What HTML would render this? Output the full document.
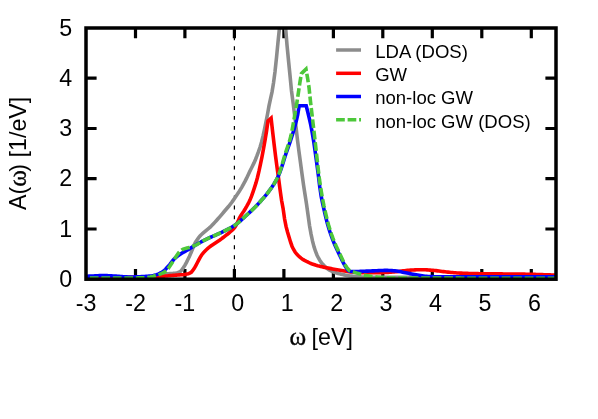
<!DOCTYPE html>
<html><head><meta charset="utf-8"><title>A(omega)</title>
<style>
html,body{margin:0;padding:0;background:#fff;}
body{width:598px;height:419px;overflow:hidden;}
svg{display:block;}
text{font-family:"Liberation Sans",sans-serif;fill:#000;}
text.w{font-family:"Liberation Serif",serif;stroke:#000;stroke-width:0.35px;}
</style></head><body>
<svg width="598" height="419" viewBox="0 0 598 419">
<rect width="598" height="419" fill="#fff"/>
<defs><clipPath id="c"><rect x="86.0" y="28.0" width="470.0" height="251.2"/></clipPath></defs>
<path d="M234.4,28.0 V279.2" stroke="#000" stroke-width="1.2" stroke-dasharray="3.9 6.05" stroke-dashoffset="1.6" fill="none"/>
<path d="M135.5,279.2 V268.9 M135.5,28.0 V38.3 M184.9,279.2 V268.9 M184.9,28.0 V38.3 M234.4,279.2 V268.9 M234.4,28.0 V38.3 M283.9,279.2 V268.9 M283.9,28.0 V38.3 M333.4,279.2 V268.9 M333.4,28.0 V38.3 M382.8,279.2 V268.9 M382.8,28.0 V38.3 M432.3,279.2 V268.9 M432.3,28.0 V38.3 M481.8,279.2 V268.9 M481.8,28.0 V38.3 M531.3,279.2 V268.9 M531.3,28.0 V38.3 M86.0,229.0 H96.6 M556.0,229.0 H545.4 M86.0,178.7 H96.6 M556.0,178.7 H545.4 M86.0,128.5 H96.6 M556.0,128.5 H545.4 M86.0,78.2 H96.6 M556.0,78.2 H545.4" stroke="#000" stroke-width="3.2" fill="none"/>
<g clip-path="url(#c)" fill="none" stroke-linejoin="miter" stroke-miterlimit="10" stroke-linecap="butt">
<path d="M86.00,277.60 L87.50,277.60 L89.00,277.60 L90.50,277.60 L92.00,277.60 L93.50,277.60 L95.00,277.60 L96.50,277.60 L98.00,277.60 L99.50,277.60 L101.00,277.59 L102.50,277.59 L104.00,277.59 L105.50,277.59 L107.00,277.59 L108.50,277.58 L110.00,277.58 L111.50,277.58 L113.00,277.58 L114.50,277.57 L116.00,277.57 L117.50,277.57 L119.00,277.56 L120.50,277.56 L122.00,277.55 L123.50,277.55 L125.00,277.54 L126.50,277.54 L128.00,277.53 L129.50,277.52 L131.00,277.52 L132.50,277.51 L134.00,277.50 L135.50,277.50 L137.00,277.49 L138.50,277.48 L140.00,277.47 L141.50,277.46 L143.00,277.45 L144.50,277.44 L146.00,277.43 L147.50,277.42 L149.00,277.41 L150.50,277.39 L152.00,277.26 L153.50,277.02 L155.00,276.70 L156.50,276.33 L158.00,275.96 L159.50,275.61 L161.00,275.28 L162.50,274.90 L164.00,274.52 L165.50,274.16 L167.00,273.88 L168.50,273.71 L170.00,273.59 L171.50,273.51 L173.00,273.41 L174.50,273.27 L176.00,273.05 L177.50,272.68 L179.00,272.13 L180.50,271.33 L182.00,269.59 L183.50,267.50 L185.00,265.10 L186.50,262.30 L188.00,259.30 L189.50,256.20 L191.00,252.72 L192.50,249.00 L194.00,245.28 L195.50,242.21 L197.00,239.91 L198.50,237.83 L200.00,236.00 L201.50,234.47 L203.00,233.11 L204.50,231.82 L206.00,230.55 L207.50,229.36 L209.00,228.16 L210.50,226.83 L212.00,225.36 L213.50,223.79 L215.00,222.15 L216.50,220.48 L218.00,218.80 L219.50,217.10 L221.00,215.34 L222.50,213.56 L224.00,211.78 L225.50,210.00 L227.00,208.27 L228.50,206.53 L230.00,204.70 L231.50,202.71 L233.00,200.59 L234.50,198.43 L236.00,196.25 L237.50,194.06 L239.00,191.79 L240.50,189.38 L242.00,186.85 L243.50,184.18 L245.00,181.39 L246.50,178.41 L248.00,175.24 L249.50,172.05 L251.00,168.97 L252.50,165.99 L254.00,162.89 L255.50,159.44 L257.00,155.72 L258.50,151.69 L260.00,147.24 L261.50,142.25 L263.00,136.24 L264.50,129.30 L266.00,121.96 L267.50,114.24 L269.00,105.95 L270.50,98.77 L272.00,92.14 L273.50,82.92 L275.00,71.80 L276.50,57.60 L278.00,42.11 L279.50,27.78 L281.00,12.00 L282.50,2.00 L284.00,12.02 L285.51,26.66 L287.01,45.09 L288.51,60.53 L290.01,75.53 L291.52,91.04 L293.02,102.37 L294.52,114.36 L296.02,127.14 L297.53,140.36 L299.03,152.10 L300.53,163.08 L302.04,174.29 L303.54,185.04 L305.04,194.63 L306.54,204.29 L308.05,215.10 L309.55,225.72 L311.05,234.15 L312.55,241.19 L314.06,246.89 L315.56,251.48 L317.06,255.26 L318.57,258.23 L320.07,260.73 L321.57,262.84 L323.07,264.60 L324.58,266.17 L326.08,267.60 L327.58,268.85 L329.09,269.89 L330.59,270.69 L332.09,271.38 L333.59,272.00 L335.10,272.55 L336.60,273.04 L338.10,273.48 L339.60,273.87 L341.11,274.22 L342.61,274.55 L344.11,274.87 L345.62,275.16 L347.12,275.44 L348.62,275.69 L350.12,275.91 L351.63,276.11 L353.13,276.28 L354.63,276.41 L356.13,276.53 L357.64,276.64 L359.14,276.75 L360.64,276.85 L362.15,276.94 L363.65,277.02 L365.15,277.08 L366.65,277.14 L368.16,277.18 L369.66,277.20 L371.16,277.21 L372.66,277.21 L374.17,277.22 L375.67,277.23 L377.17,277.24 L378.68,277.25 L380.18,277.25 L381.68,277.26 L383.18,277.27 L384.69,277.28 L386.19,277.28 L387.69,277.29 L389.20,277.30 L390.70,277.30 L392.20,277.31 L393.70,277.32 L395.21,277.33 L396.71,277.33 L398.21,277.34 L399.71,277.34 L401.22,277.35 L402.72,277.36 L404.22,277.36 L405.73,277.37 L407.23,277.37 L408.73,277.38 L410.23,277.39 L411.74,277.39 L413.24,277.40 L414.74,277.40 L416.24,277.41 L417.75,277.41 L419.25,277.42 L420.75,277.42 L422.26,277.43 L423.76,277.43 L425.26,277.44 L426.76,277.44 L428.27,277.45 L429.77,277.45 L431.27,277.46 L432.77,277.46 L434.28,277.46 L435.78,277.47 L437.28,277.47 L438.79,277.48 L440.29,277.48 L441.79,277.48 L443.29,277.49 L444.80,277.49 L446.30,277.49 L447.80,277.50 L449.30,277.50 L450.81,277.51 L452.31,277.51 L453.81,277.51 L455.32,277.51 L456.82,277.52 L458.32,277.52 L459.82,277.52 L461.33,277.53 L462.83,277.53 L464.33,277.53 L465.84,277.53 L467.34,277.54 L468.84,277.54 L470.34,277.54 L471.85,277.54 L473.35,277.55 L474.85,277.55 L476.35,277.55 L477.86,277.55 L479.36,277.56 L480.86,277.56 L482.37,277.56 L483.87,277.56 L485.37,277.56 L486.87,277.57 L488.38,277.57 L489.88,277.57 L491.38,277.57 L492.88,277.57 L494.39,277.57 L495.89,277.57 L497.39,277.58 L498.90,277.58 L500.40,277.58 L501.90,277.58 L503.40,277.58 L504.91,277.58 L506.41,277.58 L507.91,277.59 L509.41,277.59 L510.92,277.59 L512.42,277.59 L513.92,277.59 L515.43,277.59 L516.93,277.59 L518.43,277.59 L519.93,277.59 L521.44,277.59 L522.94,277.59 L524.44,277.59 L525.95,277.59 L527.45,277.60 L528.95,277.60 L530.45,277.60 L531.96,277.60 L533.46,277.60 L534.96,277.60 L536.46,277.60 L537.97,277.60 L539.47,277.60 L540.97,277.60 L542.48,277.60 L543.98,277.60 L545.48,277.60 L546.98,277.60 L548.49,277.60 L549.99,277.60 L551.49,277.60 L552.99,277.60 L554.50,277.60 L556.00,277.60" stroke="#8c8c8c" stroke-width="3.6"/>
<path d="M86.00,277.40 L87.50,277.40 L89.01,277.40 L90.51,277.40 L92.02,277.40 L93.52,277.40 L95.02,277.39 L96.53,277.39 L98.03,277.39 L99.54,277.38 L101.04,277.38 L102.55,277.38 L104.05,277.37 L105.55,277.37 L107.06,277.36 L108.56,277.36 L110.07,277.35 L111.57,277.34 L113.07,277.34 L114.58,277.33 L116.08,277.32 L117.59,277.31 L119.09,277.30 L120.60,277.29 L122.10,277.28 L123.60,277.27 L125.11,277.26 L126.61,277.25 L128.12,277.24 L129.62,277.23 L131.12,277.21 L132.63,277.20 L134.13,277.18 L135.64,277.17 L137.14,277.15 L138.64,277.14 L140.15,277.12 L141.65,277.11 L143.16,277.09 L144.66,277.07 L146.17,277.05 L147.67,277.03 L149.17,277.01 L150.68,276.99 L152.18,276.94 L153.69,276.88 L155.19,276.80 L156.69,276.71 L158.20,276.60 L159.70,276.50 L161.21,276.39 L162.71,276.29 L164.21,276.17 L165.72,276.05 L167.22,275.92 L168.73,275.78 L170.23,275.64 L171.74,275.50 L173.24,275.36 L174.74,275.23 L176.25,275.11 L177.75,275.01 L179.26,274.92 L180.76,274.82 L182.26,274.70 L183.77,274.56 L185.27,274.38 L186.78,274.09 L188.28,273.67 L189.79,273.09 L191.29,272.22 L192.79,270.51 L194.30,268.35 L195.80,265.77 L197.31,262.72 L198.81,259.86 L200.31,257.12 L201.82,254.71 L203.32,252.80 L204.83,251.17 L206.33,249.72 L207.83,248.40 L209.34,247.18 L210.84,246.05 L212.35,245.02 L213.85,244.03 L215.36,243.03 L216.86,242.04 L218.36,241.06 L219.87,240.04 L221.37,238.93 L222.88,237.76 L224.38,236.57 L225.88,235.39 L227.39,234.23 L228.89,233.04 L230.40,231.74 L231.90,230.40 L233.40,228.94 L234.91,227.19 L236.41,224.73 L237.92,221.43 L239.42,218.10 L240.93,215.41 L242.43,213.13 L243.93,210.90 L245.44,208.46 L246.94,205.91 L248.45,203.19 L249.95,200.11 L251.45,196.38 L252.96,192.12 L254.46,187.67 L255.97,182.87 L257.47,177.47 L258.98,171.19 L260.48,164.20 L261.98,156.78 L263.49,148.93 L264.99,140.48 L266.50,131.36 L268.00,121.00 L269.55,119.60 L271.10,118.20 L272.60,131.52 L274.10,144.26 L275.60,156.47 L277.10,167.88 L278.60,178.58 L280.10,190.01 L281.60,200.55 L283.10,208.43 L284.60,219.07 L286.09,226.66 L287.59,232.32 L289.09,237.31 L290.59,242.21 L292.09,246.45 L293.59,249.49 L295.09,251.95 L296.59,253.97 L298.09,255.59 L299.59,256.95 L301.09,258.14 L302.59,259.19 L304.09,260.12 L305.59,260.95 L307.09,261.73 L308.59,262.44 L310.09,263.10 L311.59,263.71 L313.09,264.27 L314.58,264.77 L316.08,265.24 L317.58,265.67 L319.08,266.06 L320.58,266.44 L322.08,266.79 L323.58,267.12 L325.08,267.44 L326.58,267.75 L328.08,268.06 L329.58,268.36 L331.08,268.64 L332.58,268.92 L334.08,269.19 L335.58,269.45 L337.08,269.71 L338.58,269.96 L340.08,270.20 L341.58,270.43 L343.07,270.67 L344.57,270.92 L346.07,271.17 L347.57,271.42 L349.07,271.65 L350.57,271.86 L352.07,272.05 L353.57,272.20 L355.07,272.30 L356.57,272.38 L358.07,272.46 L359.57,272.53 L361.07,272.60 L362.57,272.65 L364.07,272.70 L365.57,272.75 L367.07,272.78 L368.57,272.79 L370.07,272.80 L371.56,272.80 L373.06,272.78 L374.56,272.76 L376.06,272.74 L377.56,272.71 L379.06,272.67 L380.56,272.63 L382.06,272.59 L383.56,272.55 L385.06,272.50 L386.56,272.44 L388.06,272.35 L389.56,272.25 L391.06,272.14 L392.56,272.02 L394.06,271.89 L395.56,271.76 L397.06,271.62 L398.56,271.46 L400.05,271.27 L401.55,271.07 L403.05,270.86 L404.55,270.66 L406.05,270.48 L407.55,270.31 L409.05,270.18 L410.55,270.09 L412.05,270.01 L413.55,269.94 L415.05,269.87 L416.55,269.81 L418.05,269.77 L419.55,269.73 L421.05,269.71 L422.55,269.70 L424.05,269.73 L425.55,269.79 L427.05,269.87 L428.54,269.98 L430.04,270.11 L431.54,270.24 L433.04,270.38 L434.54,270.51 L436.04,270.66 L437.54,270.84 L439.04,271.04 L440.54,271.24 L442.04,271.45 L443.54,271.64 L445.04,271.80 L446.54,271.96 L448.04,272.11 L449.54,272.27 L451.04,272.42 L452.54,272.56 L454.04,272.69 L455.54,272.82 L457.03,272.93 L458.53,273.02 L460.03,273.10 L461.53,273.17 L463.03,273.23 L464.53,273.29 L466.03,273.34 L467.53,273.40 L469.03,273.45 L470.53,273.49 L472.03,273.53 L473.53,273.57 L475.03,273.61 L476.53,273.64 L478.03,273.67 L479.53,273.69 L481.03,273.72 L482.53,273.74 L484.03,273.76 L485.52,273.78 L487.02,273.79 L488.52,273.81 L490.02,273.82 L491.52,273.84 L493.02,273.85 L494.52,273.86 L496.02,273.87 L497.52,273.89 L499.02,273.90 L500.52,273.91 L502.02,273.92 L503.52,273.93 L505.02,273.94 L506.52,273.95 L508.02,273.96 L509.52,273.98 L511.02,273.99 L512.52,274.01 L514.01,274.02 L515.51,274.04 L517.01,274.06 L518.51,274.07 L520.01,274.10 L521.51,274.12 L523.01,274.14 L524.51,274.17 L526.01,274.20 L527.51,274.23 L529.01,274.26 L530.51,274.30 L532.01,274.34 L533.51,274.37 L535.01,274.41 L536.51,274.46 L538.01,274.50 L539.51,274.54 L541.01,274.59 L542.50,274.64 L544.00,274.68 L545.50,274.73 L547.00,274.78 L548.50,274.83 L550.00,274.89 L551.50,274.94 L553.00,274.99 L554.50,275.05 L556.00,275.10" stroke="#ff0000" stroke-width="3.6"/>
<path d="M86.00,276.30 L87.50,276.24 L89.00,276.17 L90.50,276.11 L92.01,276.04 L93.51,275.97 L95.01,275.90 L96.51,275.82 L98.01,275.72 L99.51,275.62 L101.01,275.54 L102.52,275.50 L104.02,275.51 L105.52,275.55 L107.02,275.61 L108.52,275.70 L110.02,275.79 L111.52,275.87 L113.03,275.96 L114.53,276.06 L116.03,276.17 L117.53,276.29 L119.03,276.40 L120.53,276.51 L122.03,276.60 L123.54,276.70 L125.04,276.80 L126.54,276.89 L128.04,276.96 L129.54,277.00 L131.04,276.99 L132.54,276.97 L134.05,276.93 L135.55,276.89 L137.05,276.83 L138.55,276.78 L140.05,276.71 L141.55,276.62 L143.05,276.53 L144.55,276.43 L146.06,276.33 L147.56,276.23 L149.06,276.11 L150.56,275.96 L152.06,275.73 L153.56,275.42 L155.06,275.05 L156.57,274.63 L158.07,274.11 L159.57,273.48 L161.07,272.73 L162.57,271.86 L164.07,270.69 L165.57,269.20 L167.08,267.53 L168.58,265.84 L170.08,264.10 L171.58,262.18 L173.08,260.28 L174.58,258.60 L176.08,257.25 L177.59,256.08 L179.09,255.02 L180.59,254.03 L182.09,253.06 L183.59,252.17 L185.09,251.33 L186.59,250.48 L188.10,249.60 L189.60,248.69 L191.10,247.76 L192.60,246.84 L194.10,245.93 L195.60,245.05 L197.10,244.18 L198.61,243.31 L200.11,242.46 L201.61,241.63 L203.11,240.82 L204.61,240.04 L206.11,239.31 L207.61,238.61 L209.12,237.93 L210.62,237.27 L212.12,236.62 L213.62,235.96 L215.12,235.29 L216.62,234.61 L218.12,233.95 L219.63,233.28 L221.13,232.60 L222.63,231.90 L224.13,231.18 L225.63,230.43 L227.13,229.67 L228.63,228.89 L230.14,228.08 L231.64,227.23 L233.14,226.34 L234.64,225.38 L236.14,224.33 L237.64,223.17 L239.14,221.91 L240.65,220.58 L242.15,219.21 L243.65,217.83 L245.15,216.46 L246.65,215.09 L248.15,213.72 L249.65,212.34 L251.15,210.93 L252.66,209.50 L254.16,208.03 L255.66,206.52 L257.16,204.96 L258.66,203.37 L260.16,201.74 L261.66,200.08 L263.17,198.38 L264.67,196.62 L266.17,194.80 L267.67,192.90 L269.17,190.91 L270.67,188.84 L272.17,186.70 L273.68,184.46 L275.18,182.06 L276.68,179.41 L278.18,176.46 L279.68,172.96 L281.18,168.75 L282.68,164.08 L284.19,159.25 L285.69,154.53 L287.19,150.14 L288.69,145.90 L290.19,141.58 L291.69,136.99 L293.19,132.20 L294.70,127.10 L296.20,121.42 L297.70,114.60 L299.20,105.80 L300.60,105.80 L302.00,105.80 L303.40,105.80 L304.80,105.80 L306.20,105.80 L307.70,111.79 L309.21,118.03 L310.71,124.67 L312.21,132.54 L313.72,141.51 L315.22,151.98 L316.73,163.00 L318.23,174.24 L319.73,186.42 L321.24,196.70 L322.74,203.81 L324.24,210.72 L325.75,217.18 L327.25,223.13 L328.75,228.29 L330.26,232.95 L331.76,237.20 L333.26,241.12 L334.77,244.71 L336.27,248.04 L337.77,251.23 L339.28,254.38 L340.78,257.57 L342.29,260.72 L343.79,263.69 L345.29,266.33 L346.80,268.57 L348.30,270.50 L349.81,271.33 L351.31,271.45 L352.82,271.49 L354.32,271.50 L355.83,271.49 L357.33,271.47 L358.84,271.44 L360.34,271.40 L361.85,271.36 L363.35,271.31 L364.86,271.24 L366.36,271.17 L367.87,271.10 L369.37,271.03 L370.88,270.97 L372.38,270.90 L373.89,270.83 L375.39,270.75 L376.90,270.68 L378.40,270.61 L379.91,270.54 L381.41,270.49 L382.92,270.44 L384.42,270.41 L385.93,270.40 L387.43,270.41 L388.94,270.46 L390.44,270.54 L391.95,270.64 L393.45,270.74 L394.96,270.87 L396.46,271.04 L397.97,271.27 L399.47,271.54 L400.98,271.83 L402.48,272.14 L403.99,272.45 L405.49,272.75 L407.00,273.03 L408.50,273.32 L410.01,273.63 L411.51,273.94 L413.02,274.25 L414.52,274.55 L416.03,274.83 L417.53,275.08 L419.04,275.31 L420.54,275.53 L422.05,275.76 L423.55,275.97 L425.06,276.17 L426.56,276.34 L428.07,276.48 L429.57,276.57 L431.08,276.62 L432.58,276.66 L434.09,276.70 L435.59,276.73 L437.10,276.77 L438.60,276.79 L440.11,276.82 L441.61,276.84 L443.12,276.86 L444.62,276.88 L446.13,276.89 L447.63,276.90 L449.14,276.90 L450.64,276.90 L452.15,276.90 L453.66,276.90 L455.16,276.90 L456.67,276.90 L458.17,276.90 L459.68,276.90 L461.18,276.90 L462.69,276.90 L464.19,276.90 L465.70,276.90 L467.20,276.90 L468.71,276.90 L470.21,276.90 L471.72,276.90 L473.22,276.90 L474.73,276.90 L476.23,276.90 L477.74,276.90 L479.24,276.90 L480.75,276.90 L482.25,276.90 L483.76,276.90 L485.26,276.90 L486.77,276.90 L488.27,276.90 L489.78,276.90 L491.28,276.90 L492.79,276.90 L494.29,276.90 L495.80,276.90 L497.30,276.90 L498.81,276.90 L500.31,276.90 L501.82,276.90 L503.32,276.90 L504.83,276.90 L506.33,276.90 L507.84,276.90 L509.34,276.90 L510.85,276.90 L512.35,276.90 L513.86,276.90 L515.36,276.90 L516.87,276.90 L518.37,276.90 L519.88,276.90 L521.38,276.90 L522.89,276.90 L524.39,276.90 L525.90,276.90 L527.40,276.90 L528.91,276.90 L530.41,276.90 L531.92,276.90 L533.42,276.90 L534.93,276.90 L536.43,276.90 L537.94,276.90 L539.44,276.90 L540.95,276.90 L542.45,276.90 L543.96,276.90 L545.46,276.90 L546.97,276.90 L548.47,276.90 L549.98,276.90 L551.48,276.90 L552.99,276.90 L554.49,276.90 L556.00,276.90" stroke="#0000ff" stroke-width="3.6"/>
<path d="M86.00,278.00 L87.50,278.00 L88.99,278.00 L90.49,278.00 L91.98,278.00 L93.48,278.00 L94.97,278.00 L96.47,278.00 L97.97,278.00 L99.46,278.00 L100.96,278.00 L102.45,278.00 L103.95,277.99 L105.45,277.99 L106.94,277.99 L108.44,277.99 L109.93,277.99 L111.43,277.99 L112.92,277.99 L114.42,277.98 L115.92,277.98 L117.41,277.98 L118.91,277.98 L120.40,277.97 L121.90,277.97 L123.40,277.97 L124.89,277.96 L126.39,277.96 L127.88,277.96 L129.38,277.95 L130.88,277.95 L132.37,277.94 L133.87,277.94 L135.36,277.93 L136.86,277.93 L138.35,277.92 L139.85,277.91 L141.35,277.91 L142.84,277.90 L144.34,277.85 L145.83,277.69 L147.33,277.47 L148.82,277.21 L150.32,276.94 L151.82,276.63 L153.31,276.25 L154.81,275.83 L156.30,275.38 L157.80,274.90 L159.30,274.40 L160.79,273.83 L162.29,273.16 L163.78,272.40 L165.28,271.47 L166.77,270.27 L168.27,268.51 L169.77,266.32 L171.26,263.96 L172.76,261.67 L174.25,259.34 L175.75,257.00 L177.25,254.81 L178.74,252.68 L180.24,251.09 L181.73,250.00 L183.23,249.18 L184.72,248.63 L186.22,248.24 L187.72,247.87 L189.21,247.46 L190.71,247.02 L192.20,246.52 L193.70,245.95 L195.20,245.31 L196.69,244.58 L198.19,243.76 L199.68,242.88 L201.18,241.99 L202.67,241.11 L204.17,240.28 L205.67,239.52 L207.16,238.81 L208.66,238.13 L210.15,237.47 L211.65,236.82 L213.15,236.17 L214.64,235.51 L216.14,234.83 L217.63,234.16 L219.13,233.50 L220.62,232.83 L222.12,232.14 L223.62,231.43 L225.11,230.69 L226.61,229.93 L228.10,229.16 L229.60,228.37 L231.10,227.54 L232.59,226.67 L234.09,225.74 L235.58,224.73 L237.08,223.62 L238.57,222.40 L240.07,221.10 L241.57,219.74 L243.06,218.37 L244.56,216.99 L246.05,215.64 L247.55,214.28 L249.05,212.90 L250.54,211.51 L252.04,210.09 L253.53,208.64 L255.03,207.16 L256.52,205.63 L258.02,204.05 L259.52,202.45 L261.01,200.82 L262.51,199.15 L264.00,197.43 L265.50,195.65 L267.00,193.79 L268.49,191.84 L269.99,189.80 L271.48,187.67 L272.98,185.46 L274.47,183.09 L275.97,180.49 L277.47,177.57 L278.96,174.17 L280.46,169.90 L281.95,165.00 L283.45,159.85 L284.95,154.79 L286.44,150.19 L287.94,145.96 L289.43,141.43 L290.93,135.82 L292.42,128.38 L293.92,119.95 L295.42,111.48 L296.91,102.59 L298.41,92.64 L299.90,82.41 L301.40,73.60 L302.93,72.13 L304.47,70.67 L306.00,69.20 L307.50,77.65 L309.00,87.35 L310.50,101.66 L312.00,114.50 L313.50,127.09 L315.00,140.23 L316.50,153.76 L318.00,167.12 L319.50,179.88 L321.00,189.93 L322.50,198.43 L324.00,206.05 L325.50,212.71 L327.00,219.05 L328.50,224.75 L330.00,229.72 L331.50,234.24 L333.00,238.38 L334.50,242.19 L336.00,245.68 L337.50,248.94 L339.00,252.11 L340.50,255.29 L342.00,258.57 L343.50,261.77 L345.00,264.66 L346.50,267.03 L348.00,269.00 L349.50,270.60 L351.00,271.13 L352.49,271.65 L353.99,272.15 L355.49,272.63 L356.98,273.10 L358.48,273.56 L359.97,274.00 L361.47,274.42 L362.97,274.79 L364.46,275.14 L365.96,275.46 L367.46,275.76 L368.95,276.03 L370.45,276.27 L371.95,276.49 L373.44,276.70 L374.94,276.90 L376.43,277.07 L377.93,277.23 L379.43,277.36 L380.92,277.46 L382.42,277.57 L383.92,277.67 L385.41,277.76 L386.91,277.85 L388.41,277.92 L389.90,277.99 L391.40,278.04 L392.89,278.08 L394.39,278.10 L395.89,278.10 L397.38,278.10 L398.88,278.11 L400.38,278.11 L401.87,278.11 L403.37,278.11 L404.87,278.12 L406.36,278.12 L407.86,278.12 L409.36,278.12 L410.85,278.12 L412.35,278.13 L413.84,278.13 L415.34,278.13 L416.84,278.13 L418.33,278.13 L419.83,278.14 L421.33,278.14 L422.82,278.14 L424.32,278.14 L425.82,278.14 L427.31,278.15 L428.81,278.15 L430.30,278.15 L431.80,278.15 L433.30,278.15 L434.79,278.15 L436.29,278.15 L437.79,278.16 L439.28,278.16 L440.78,278.16 L442.28,278.16 L443.77,278.16 L445.27,278.16 L446.76,278.16 L448.26,278.17 L449.76,278.17 L451.25,278.17 L452.75,278.17 L454.25,278.17 L455.74,278.17 L457.24,278.17 L458.74,278.17 L460.23,278.17 L461.73,278.18 L463.22,278.18 L464.72,278.18 L466.22,278.18 L467.71,278.18 L469.21,278.18 L470.71,278.18 L472.20,278.18 L473.70,278.18 L475.20,278.18 L476.69,278.18 L478.19,278.19 L479.68,278.19 L481.18,278.19 L482.68,278.19 L484.17,278.19 L485.67,278.19 L487.17,278.19 L488.66,278.19 L490.16,278.19 L491.66,278.19 L493.15,278.19 L494.65,278.19 L496.14,278.19 L497.64,278.19 L499.14,278.19 L500.63,278.19 L502.13,278.19 L503.63,278.19 L505.12,278.19 L506.62,278.20 L508.12,278.20 L509.61,278.20 L511.11,278.20 L512.61,278.20 L514.10,278.20 L515.60,278.20 L517.09,278.20 L518.59,278.20 L520.09,278.20 L521.58,278.20 L523.08,278.20 L524.58,278.20 L526.07,278.20 L527.57,278.20 L529.07,278.20 L530.56,278.20 L532.06,278.20 L533.55,278.20 L535.05,278.20 L536.55,278.20 L538.04,278.20 L539.54,278.20 L541.04,278.20 L542.53,278.20 L544.03,278.20 L545.53,278.20 L547.02,278.20 L548.52,278.20 L550.01,278.20 L551.51,278.20 L553.01,278.20 L554.50,278.20 L556.00,278.20" stroke="#4dc83a" stroke-width="3.6" stroke-dasharray="8.7 2.8" stroke-dashoffset="7.64"/>
</g>
<rect x="86.0" y="28.0" width="470.0" height="251.2" fill="none" stroke="#000" stroke-width="3.5"/>
<g font-size="23.25" opacity="0.999">
<text x="86.0" y="310.9" text-anchor="middle">-3</text>
<text x="135.5" y="310.9" text-anchor="middle">-2</text>
<text x="184.9" y="310.9" text-anchor="middle">-1</text>
<text x="237.6" y="310.9" text-anchor="middle">0</text>
<text x="287.1" y="310.9" text-anchor="middle">1</text>
<text x="336.6" y="310.9" text-anchor="middle">2</text>
<text x="386.0" y="310.9" text-anchor="middle">3</text>
<text x="435.5" y="310.9" text-anchor="middle">4</text>
<text x="485.0" y="310.9" text-anchor="middle">5</text>
<text x="534.5" y="310.9" text-anchor="middle">6</text>
<text x="72.1" y="286.9" text-anchor="end">0</text>
<text x="72.1" y="236.7" text-anchor="end">1</text>
<text x="72.1" y="186.4" text-anchor="end">2</text>
<text x="72.1" y="136.2" text-anchor="end">3</text>
<text x="72.1" y="85.9" text-anchor="end">4</text>
<text x="72.1" y="35.7" text-anchor="end">5</text>
<text x="289.5" y="345.1" class="w" font-size="25.3">ω</text>
<text x="311.6" y="345.1">[eV]</text>
<text transform="translate(26.2,209.9) rotate(-90)">A(</text>
<text transform="translate(26.2,186.7) rotate(-90)" class="w" font-size="25.3">ω</text>
<text transform="translate(26.2,96.7) rotate(-90)" text-anchor="end">) [1/eV]</text>
</g>
<g opacity="0.999">
<path d="M336.1,50.0 H361.0" stroke="#8c8c8c" stroke-width="3.5" fill="none"/>
<text x="375.2" y="57.9" font-size="18.55">LDA (DOS)</text>
<path d="M336.1,73.3 H361.0" stroke="#ff0000" stroke-width="3.5" fill="none"/>
<text x="375.2" y="81.2" font-size="18.55">GW</text>
<path d="M336.1,96.5 H361.0" stroke="#0000ff" stroke-width="3.5" fill="none"/>
<text x="375.2" y="104.4" font-size="18.55">non-loc GW</text>
<path d="M336.1,119.8 H361.0" stroke="#4dc83a" stroke-width="3.5" fill="none" stroke-dasharray="8.7 2.8"/>
<text x="375.2" y="127.7" font-size="18.55">non-loc GW (DOS)</text>
</g>
</svg>
</body></html>
